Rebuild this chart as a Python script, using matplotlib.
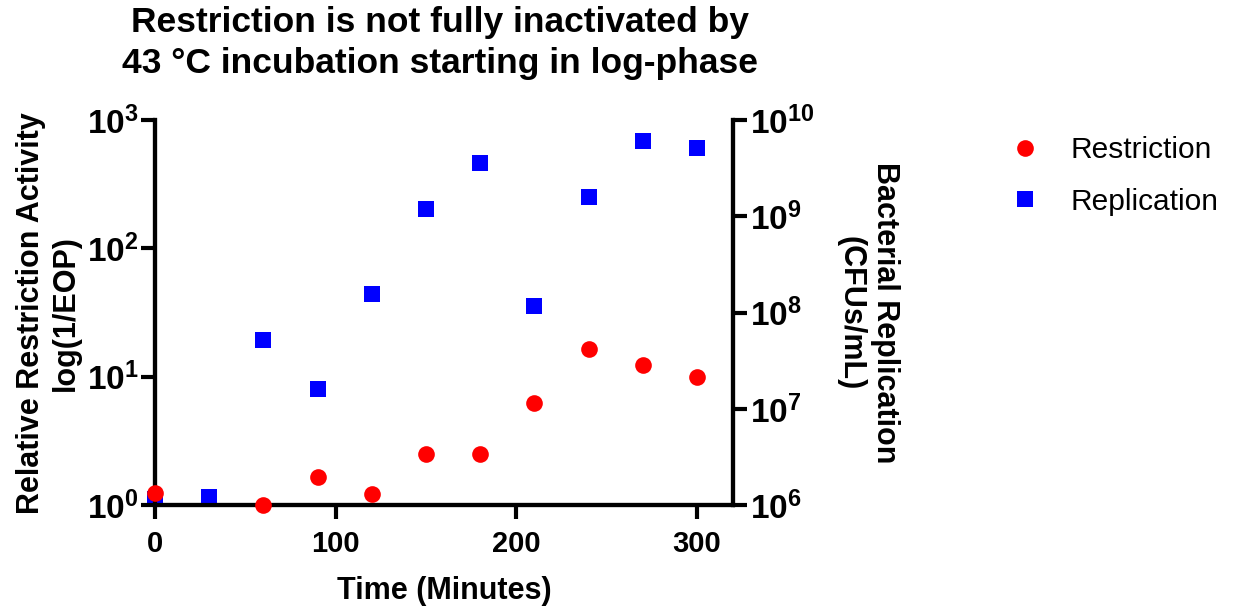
import math
import matplotlib
matplotlib.use("Agg")
from matplotlib import pyplot as plt
from matplotlib.ticker import FixedLocator, FuncFormatter, NullLocator
from matplotlib.lines import Line2D

plt.rcParams['font.family'] = ['Liberation Sans', 'DejaVu Sans']
plt.rcParams['mathtext.fontset'] = 'custom'
plt.rcParams['mathtext.rm'] = 'Liberation Sans:bold'
plt.rcParams['mathtext.bf'] = 'Liberation Sans:bold'
plt.rcParams['mathtext.it'] = 'Liberation Sans:bold'

# data
restriction_time = [0, 60, 90, 120, 150, 180, 210, 240, 270, 300]
restriction_activity = [1.25, 1.0, 1.66, 1.23, 2.49, 2.49, 6.2, 16.6, 12.4, 10.0]

replication_time = [0, 30, 60, 90, 120, 150, 180, 210, 240, 270, 300]
replication_cfu = [1.15e6, 1.2e6, 5.15e7, 1.6e7, 1.58e8, 1.18e9, 3.56e9,
                   1.18e8, 1.59e9, 6.0e9, 5.15e9]

x_ticks = [0, 100, 200, 300]
left_ticks = [1, 10, 100, 1000]
right_ticks = [1e6, 1e7, 1e8, 1e9, 1e10]

title = "Restriction is not fully inactivated by\n43 °C incubation starting in log-phase"


def pow10(v, pos):
    exp = int(round(math.log10(v)))
    return r'$\mathbf{10^{%d}}$' % exp


fig = plt.figure(figsize=(12.33, 6.13), dpi=100)
ax = fig.add_axes([0.1257, 0.176, 0.469, 0.628])
ax2 = ax.twinx()

ax.plot(restriction_time, restriction_activity, 'o', color='#ff0000',
        markersize=12, markeredgewidth=0, zorder=4, clip_on=False)
ax2.plot(replication_time, replication_cfu, 's', color='#0000ff',
         markersize=12, markeredgewidth=0, zorder=3, clip_on=False)
ax.set_zorder(ax2.get_zorder() + 1)
ax.patch.set_visible(False)

ax.set_xlim(0, 320)
ax.set_yscale('log')
ax.set_ylim(1, 1000)
ax2.set_yscale('log')
ax2.set_ylim(1e6, 1e10)

ax.xaxis.set_major_locator(FixedLocator(x_ticks))
ax.yaxis.set_major_locator(FixedLocator(left_ticks))
ax.yaxis.set_minor_locator(NullLocator())
ax.yaxis.set_major_formatter(FuncFormatter(pow10))
ax2.yaxis.set_major_locator(FixedLocator(right_ticks))
ax2.yaxis.set_minor_locator(NullLocator())
ax2.yaxis.set_major_formatter(FuncFormatter(pow10))

for a in (ax, ax2):
    for s in a.spines.values():
        s.set_linewidth(3)
    a.spines['top'].set_visible(False)
    a.tick_params(width=3, length=10, labelsize=24, pad=2)
    for lbl in a.get_xticklabels():
        lbl.set_fontweight('bold')
ax.tick_params(axis='x', labelsize=21, pad=8)

ax.set_xlabel("Time (Minutes)", fontsize=22, fontweight='bold', labelpad=13)
ax.set_ylabel("Relative Restriction Activity\nlog(1/EOP)", fontsize=22,
              fontweight='bold', labelpad=4)
ax2.set_ylabel("Bacterial Replication\n(CFUs/mL)", fontsize=22,
               fontweight='bold', rotation=270, labelpad=62)

fig.text(0.357, 0.99, title, ha='center', va='top', fontsize=25.5,
         fontweight='bold', linespacing=1.3)

handles = [
    Line2D([], [], marker='o', linestyle='none', color='#ff0000',
           markersize=12, markeredgewidth=0, label='Restriction'),
    Line2D([], [], marker='s', linestyle='none', color='#0000ff',
           markersize=11, markeredgewidth=0, label='Replication'),
]
fig.legend(handles=handles, loc='upper left', bbox_to_anchor=(0.785, 0.822),
           frameon=False, fontsize=21.5, handletextpad=0.55, labelspacing=0.8)

fig.savefig("out.png", dpi=100)
